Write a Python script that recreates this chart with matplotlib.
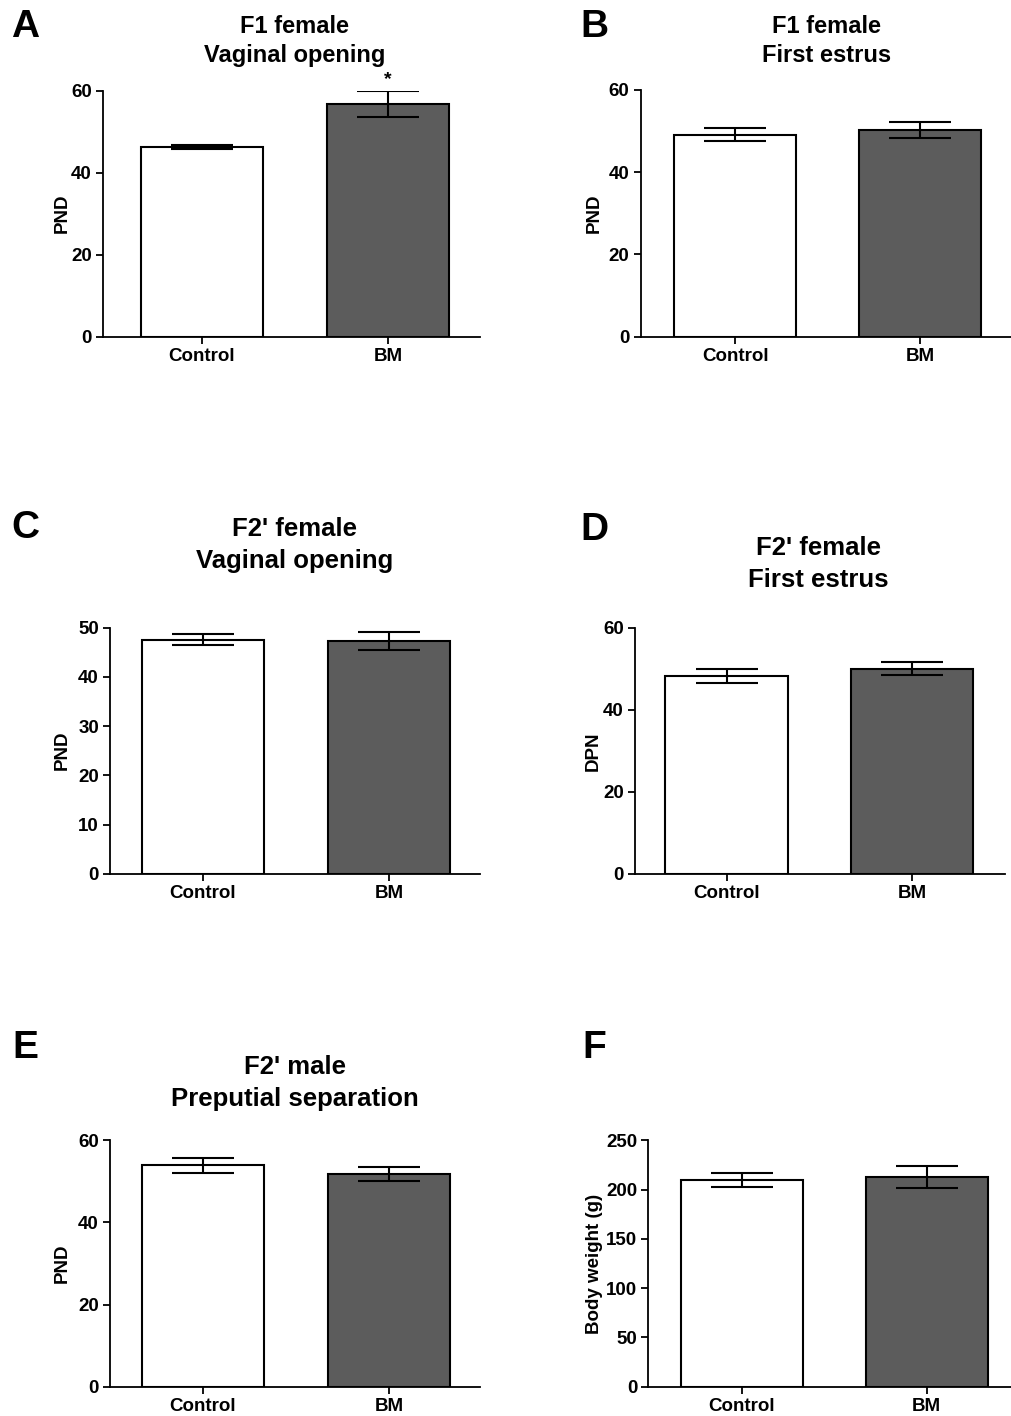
import matplotlib
matplotlib.use('Agg')
import matplotlib.pyplot as plt

plt.rcParams['font.family'] = ['Liberation Sans', 'DejaVu Sans']
plt.rcParams['font.weight'] = 'bold'

# data (mean +/- SEM)
groups = ['Control', 'BM']
panel_letters = ['A', 'B', 'C', 'D', 'E', 'F']
titles = ['F1 female\nVaginal opening', 'F1 female\nFirst estrus',
          "F2' female\nVaginal opening", "F2' female\nFirst estrus",
          "F2' male\nPreputial separation", '']
ylabels = ['PND', 'PND', 'PND', 'DPN', 'PND', 'Body weight (g)']
means = [[46.3, 56.8], [49.1, 50.3], [47.6, 47.3],
         [48.3, 50.0], [53.9, 51.8], [209.7, 212.8]]
sems = [[0.5, 3.2], [1.55, 2.0], [1.1, 1.85],
        [1.7, 1.55], [1.75, 1.6], [6.8, 10.8]]
ymax = [60, 60, 50, 60, 60, 250]
ystep = [20, 20, 10, 20, 20, 50]
stars = ['*', '', '', '', '', '']

W, H = 1011, 1416
fig = plt.figure(figsize=(W / 100, H / 100), dpi=100)

# pixel boxes: left, right, top, bottom of the axes area
boxes = [(103, 480, 90.7, 336.7), (640.7, 1011, 90, 336.7),
         (110, 480, 627.7, 873.7), (635, 1005, 627.7, 874),
         (110, 480, 1140.3, 1386.7), (648.3, 1011, 1140.3, 1386.7)]
xlims = [(-0.532, 1.495), (-0.51, 1.49), (-0.5, 1.49),
         (-0.494, 1.5), (-0.5, 1.49), (-0.505, 1.456)]
title_pos = [(295, 41), (827, 41), (295, 545), (818, 564), (295, 1083), None]
letter_pos = [(25, 27), (594, 27), (25, 528), (594, 530), (25, 1048), (594, 1048)]
ylabel_x = [71, 603, 71, 602, 71, 603]
title_size = [17, 17, 18.5, 18.5, 18.5, 17]
title_ls = [1.3, 1.3, 1.4, 1.38, 1.4, 1.3]

for i in range(6):
    l, r, t, b = boxes[i]
    ax = fig.add_axes([l / W, 1 - b / H, (r - l) / W, (b - t) / H])
    ax.bar([0, 1], means[i], width=0.66, color=['white', '#5c5c5c'],
           edgecolor='black', linewidth=1.5, zorder=2)
    ax.errorbar([0, 1], means[i], yerr=sems[i], fmt='none', ecolor='black',
                elinewidth=1.5, capsize=22, capthick=1.5, zorder=3)
    if stars[i]:
        ax.text(1, means[i][1] + sems[i][1] + 0.6, stars[i], ha='center',
                va='bottom', fontsize=14, clip_on=False)
    ax.set_xlim(*xlims[i])
    ax.set_ylim(0, ymax[i])
    ax.set_yticks(range(0, ymax[i] + 1, ystep[i]))
    ax.set_xticks([0, 1])
    ax.set_xticklabels(groups, fontsize=13.5, fontweight='bold')
    for lab in ax.get_yticklabels():
        lab.set_fontsize(13.5)
        lab.set_fontweight('bold')
    ax.set_ylabel(ylabels[i], fontsize=13.5, fontweight='bold')
    ax.yaxis.set_label_coords((ylabel_x[i] - l) / (r - l), 0.5)
    ax.spines['top'].set_visible(False)
    ax.spines['right'].set_visible(False)
    ax.spines['left'].set_linewidth(1.3)
    ax.spines['bottom'].set_linewidth(1.3)
    ax.tick_params(axis='both', length=5, width=1.3, pad=3)

    if title_pos[i]:
        tx, ty = title_pos[i]
        fig.text(tx / W, 1 - ty / H, titles[i], ha='center', va='center',
                 fontsize=title_size[i], fontweight='bold',
                 linespacing=title_ls[i])
    lx, ly = letter_pos[i]
    fig.text(lx / W, 1 - ly / H, panel_letters[i], ha='center', va='center',
             fontsize=28, fontweight='bold')

fig.savefig('out.png', dpi=100)
